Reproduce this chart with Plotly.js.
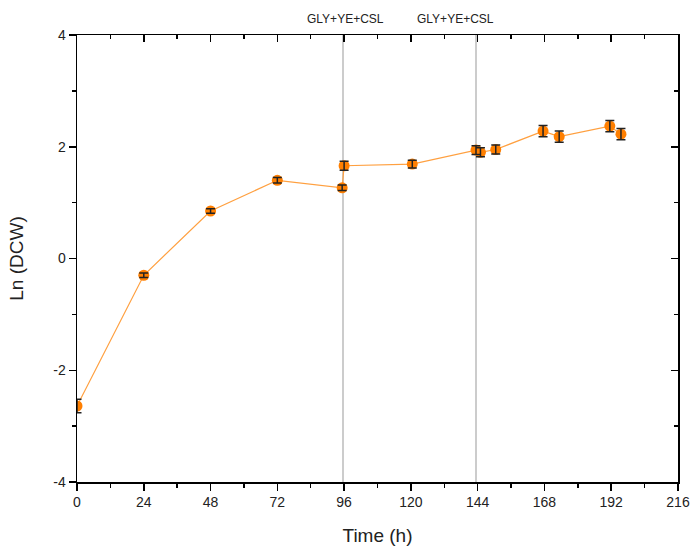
<!DOCTYPE html>
<html>
<head>
<meta charset="utf-8">
<script src="https://cdn.plot.ly/plotly-3.0.1.min.js"></script>
<style>html,body{margin:0;padding:0;background:#fff;}#chart{width:694px;height:546px;}</style>
</head>
<body>
<div id="chart"></div>
<script>
const timeH = [0, 24, 48, 72, 95.3, 96, 120.5, 143.4, 145, 150.5, 167.5, 173.3, 191.5, 195.5];
const lnDCW = [-2.64, -0.30, 0.85, 1.40, 1.265, 1.66, 1.69, 1.94, 1.90, 1.95, 2.28, 2.18, 2.37, 2.225];
const errDCW = [0.12, 0.04, 0.04, 0.05, 0.05, 0.08, 0.07, 0.08, 0.08, 0.08, 0.1, 0.1, 0.1, 0.1];
const feedTimes = [95.6, 143.4];
const feedLabels = ['GLY+YE+CSL', 'GLY+YE+CSL'];
const feedLabelX = [96.6, 136.2];
const xTicks = [0, 24, 48, 72, 96, 120, 144, 168, 192, 216];
const yTicks = [-4, -2, 0, 2, 4];

const font = 'Liberation Sans, Arial, sans-serif';

const traces = [
  {
    x: timeH, y: lnDCW, type: 'scatter', mode: 'lines',
    line: {color: '#ffa040', width: 1.2}, hoverinfo: 'skip', showlegend: false
  },
  {
    x: timeH, y: lnDCW, type: 'scatter', mode: 'markers',
    marker: {color: '#ff7f00', size: 11, symbol: 'circle'},
    showlegend: false
  },
  {
    x: timeH, y: lnDCW, type: 'scatter', mode: 'markers',
    marker: {color: 'rgba(0,0,0,0)', size: 1},
    error_y: {type: 'data', array: errDCW, visible: true, color: '#222', thickness: 1.5, width: 4.5},
    hoverinfo: 'skip', showlegend: false
  },
  {
    x: [0], y: [0], xaxis: 'x2', yaxis: 'y2', type: 'scatter', mode: 'markers',
    marker: {opacity: 0}, hoverinfo: 'skip', showlegend: false
  }
];

const axCommon = {
  showgrid: false, zeroline: false, showline: true, linecolor: '#000', linewidth: 1.5,
  tickcolor: '#000', tickwidth: 1.5, ticklen: 7,
  tickfont: {family: font, size: 14, color: '#222'}
};

const layout = {
  width: 694, height: 546,
  margin: {l: 77, r: 16, t: 35, b: 64},
  paper_bgcolor: '#fff', plot_bgcolor: '#fff',
  xaxis: Object.assign({}, axCommon, {
    range: [0, 216], tickvals: xTicks, ticktext: xTicks.map(String), ticks: 'outside',
    minor: {dtick: 12, tick0: 0, ticks: 'outside', ticklen: 4, tickcolor: '#000', tickwidth: 1.5},
    title: {text: 'Time (h)', font: {family: font, size: 19, color: '#222'}, standoff: 22}
  }),
  yaxis: Object.assign({}, axCommon, {
    range: [-4, 4], tickvals: yTicks, ticktext: yTicks.map(String), ticks: 'outside',
    minor: {dtick: 1, tick0: 0, ticks: 'outside', ticklen: 4, tickcolor: '#000', tickwidth: 1.5},
    title: {text: 'Ln (DCW)', font: {family: font, size: 19, color: '#222'}, standoff: 24}
  }),
  xaxis2: Object.assign({}, axCommon, {
    range: [0, 216], overlaying: 'x', side: 'top', anchor: 'y2', ticks: 'inside',
    tickvals: xTicks, showticklabels: false,
    minor: {dtick: 12, tick0: 0, ticks: 'inside', ticklen: 4, tickcolor: '#000', tickwidth: 1.5}
  }),
  yaxis2: Object.assign({}, axCommon, {
    range: [-4, 4], overlaying: 'y', side: 'right', anchor: 'x2', ticks: 'inside',
    tickvals: yTicks, showticklabels: false,
    minor: {dtick: 1, tick0: 0, ticks: 'inside', ticklen: 4, tickcolor: '#000', tickwidth: 1.5}
  }),
  shapes: feedTimes.map(t => ({
    type: 'line', xref: 'x', yref: 'paper', x0: t, x1: t, y0: 0, y1: 1,
    line: {color: '#999', width: 1}, layer: 'below'
  })),
  annotations: feedLabels.map((txt, i) => ({
    text: txt, xref: 'x', yref: 'paper', x: feedLabelX[i], y: 1, yshift: 7,
    showarrow: false, xanchor: 'center', yanchor: 'bottom',
    font: {family: font, size: 12, color: '#222'}
  }))
};

Plotly.newPlot('chart', traces, layout, {displayModeBar: false, staticPlot: true});
</script>
</body>
</html>
